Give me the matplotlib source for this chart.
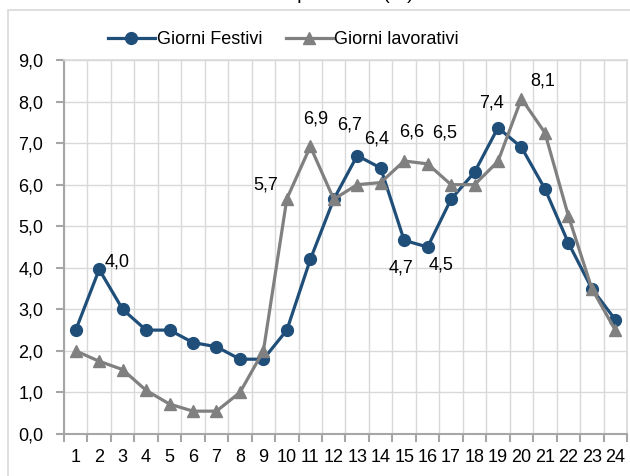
import numpy as np
import matplotlib
matplotlib.use("Agg")
import matplotlib.pyplot as plt
from matplotlib.patches import Rectangle
from matplotlib.ticker import FixedLocator, FuncFormatter

plt.rcParams['font.family'] = ['Liberation Sans Narrow', 'Liberation Sans', 'DejaVu Sans']

# dati
ore = list(range(1, 25))
festivi = [2.5, 3.96, 3.0, 2.5, 2.5, 2.2, 2.1, 1.8, 1.8, 2.5, 4.2, 5.65,
           6.7, 6.4, 4.66, 4.5, 5.65, 6.3, 7.37, 6.9, 5.9, 4.6, 3.5, 2.75]
lavorativi = [2.0, 1.75, 1.55, 1.05, 0.72, 0.55, 0.55, 1.0, 2.0, 5.66, 6.92, 5.65,
              6.0, 6.05, 6.57, 6.5, 6.0, 6.0, 6.56, 8.07, 7.25, 5.25, 3.5, 2.5]
titolo = "Andamento orario delle presenze (%)"

# etichette: (ora, spostamento in pixel)
etich_fest = {2: (18, 7), 13: (-8, 31), 14: (-4, 29), 15: (-3, -28), 16: (13, -18), 19: (-6, 25)}
etich_lav = {10: (-21, 14), 11: (5, 27), 15: (8, 29), 16: (17, 31), 20: (21, 18)}

blu = '#1F4E79'
grigio = '#808080'

def virgola(v, pos=None):
    return f"{v:.1f}".replace('.', ',')

fig = plt.figure(figsize=(6.3, 4.76), dpi=100)
fig.patches.append(Rectangle((8/630, -0.1), 1.0, 1.1 - 10/476, transform=fig.transFigure,
                             fill=False, edgecolor='#d9d9d9', lw=1.2))
fig.text(414/630, 1 + 1/476, titolo, ha='right', va='baseline', fontsize=14, color='black')

ax = fig.add_axes([64/630, 1 - 434/476, (627 - 64)/630, (434 - 60)/476])

ax.plot(ore, festivi, color=blu, lw=2.3, marker='o', ms=8.5, label='Giorni Festivi', zorder=3)
ax.plot(ore, lavorativi, color=grigio, lw=2.3, marker='^', ms=9, label='Giorni lavorativi', zorder=3)

for h, (dx, dy) in etich_fest.items():
    ax.annotate(virgola(festivi[h - 1]), (h, festivi[h - 1]), xytext=(dx, dy),
                textcoords='offset pixels', ha='center', va='center', fontsize=13)
for h, (dx, dy) in etich_lav.items():
    ax.annotate(virgola(lavorativi[h - 1]), (h, lavorativi[h - 1]), xytext=(dx, dy),
                textcoords='offset pixels', ha='center', va='center', fontsize=13)

ax.set_xlim(0.5, 24.5)
ax.set_ylim(0, 9)
ax.set_yticks(np.arange(0, 9.5, 1))
ax.yaxis.set_major_formatter(FuncFormatter(virgola))
ax.set_xticks(ore)
ax.xaxis.set_minor_locator(FixedLocator(np.arange(0.5, 25, 1)))
ax.tick_params(axis='x', which='major', length=0, pad=11, labelsize=13)
ax.tick_params(axis='x', which='minor', length=6, width=1.5, color='#a6a6a6')
ax.tick_params(axis='y', length=6, width=1.5, color='#a6a6a6', pad=9, labelsize=13)

ax.grid(axis='y', which='major', color='#d9d9d9', lw=1)
ax.grid(axis='x', which='minor', color='#d9d9d9', lw=1)
ax.set_axisbelow(True)
for s in ['left', 'bottom']:
    ax.spines[s].set_color('#a6a6a6')
    ax.spines[s].set_linewidth(1.5)
for s in ['top', 'right']:
    ax.spines[s].set_color('#d9d9d9')
    ax.spines[s].set_linewidth(1.2)

fig.legend(loc='center', bbox_to_anchor=(0.45, 1 - 40/476), ncol=2, frameon=False,
           fontsize=13, handlelength=2.6, handletextpad=0.1, columnspacing=1.3)

fig.savefig('out.png', dpi=100)
